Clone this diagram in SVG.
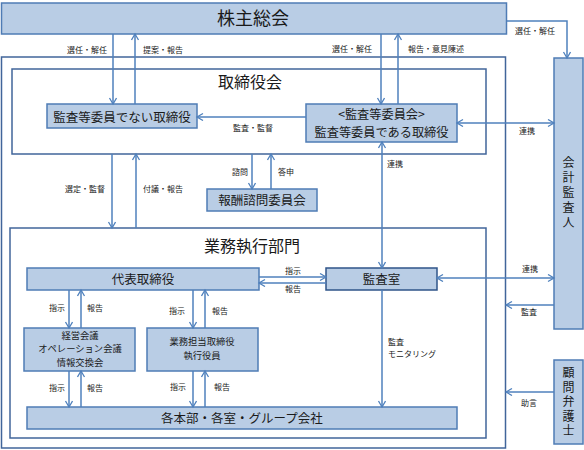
<svg xmlns="http://www.w3.org/2000/svg" width="584" height="450" viewBox="0 0 584 450">
<style>
text{font-family:"Noto Sans CJK JP","Noto Sans",sans-serif;fill:#1a1a1a;text-anchor:middle}
.box{fill:#b9cde5;stroke:#4f7cb5;stroke-width:1.5}
.frame{fill:#fff;stroke:#41659a;stroke-width:1.5}
.c{fill:none;stroke:#4f81bd;stroke-width:1.5}
.s{font-size:8px}
.m{font-size:12.5px}
.k{font-size:12.2px}
.t{font-size:9.3px}
.v{font-size:12px;writing-mode:vertical-rl}
</style>
<defs>
<marker id="a" markerUnits="userSpaceOnUse" markerWidth="10" markerHeight="10" refX="7" refY="4" orient="auto-start-reverse">
<path d="M1,0.5 L7,4 L1,7.5" fill="none" stroke="#4f81bd" stroke-width="1.3"/>
</marker>
</defs>
<rect width="584" height="450" fill="#fff"/>
<g id="outer"><rect class="frame" x="1.5" y="57" width="504" height="391"/></g>
<g id="torishimariyakukai"><rect class="frame" x="12" y="69" width="474" height="85"/><text x="250" y="88" font-size="16px">取締役会</text></g>
<g id="gyomu"><rect class="frame" x="10" y="228" width="476" height="210"/><text x="252" y="252" font-size="16px">業務執行部門</text></g>
<g id="kabunushi"><rect class="box" x="1.5" y="3" width="505" height="31"/><text x="253" y="25" font-size="18px">株主総会</text></g>
<g id="hikansa"><rect class="box" x="47" y="104" width="150" height="24"/><text class="m" x="122" y="121.5">監査等委員でない取締役</text></g>
<g id="kansaiinkai"><rect class="box" x="306" y="104" width="151" height="38"/><text class="k" x="381.5" y="119">&lt;監査等委員会&gt;</text><text class="k" x="381.5" y="137">監査等委員である取締役</text></g>
<g id="hoshu"><rect class="box" x="207" y="189" width="110" height="22"/><text class="m" x="262" y="204.5">報酬諮問委員会</text></g>
<g id="daihyo"><rect class="box" x="27" y="268" width="232" height="22"/><text class="m" x="143" y="283.5">代表取締役</text></g>
<g id="kansashitsu"><rect class="box" x="326" y="268" width="111" height="22" style="stroke:#2f5489"/><text class="m" x="381.5" y="283.5">監査室</text></g>
<g id="keiei"><rect class="box" x="24" y="328" width="111" height="43"/><text class="t" x="80" y="338.5">経営会議</text><text class="t" x="80" y="352">オペレーション会議</text><text class="t" x="80" y="365.5">情報交換会</text></g>
<g id="tanto"><rect class="box" x="147" y="328" width="111" height="43"/><text class="t" x="202" y="345">業務担当取締役</text><text class="t" x="202" y="358.5">執行役員</text></g>
<g id="kakuhonbu"><rect class="box" x="27" y="407" width="430" height="22"/><text class="m" x="242" y="422.5">各本部・各室・グループ会社</text></g>
<g id="kaikei"><rect class="box" x="554" y="58" width="29" height="271"/><text class="v" x="568.5" y="194" style="letter-spacing:3px">会計監査人</text></g>
<g id="komon"><rect class="box" x="554" y="360" width="29" height="84"/><text class="v" x="568.5" y="403" style="letter-spacing:2.5px">顧問弁護士</text></g>
<g id="connectors">
<path class="c" d="M113,34V104" marker-end="url(#a)"/>
<path class="c" d="M135,104V34" marker-end="url(#a)"/>
<path class="c" d="M381,34V104" marker-end="url(#a)"/>
<path class="c" d="M398,104V34" marker-end="url(#a)"/>
<path class="c" d="M507,21H567V58" marker-end="url(#a)"/>
<path class="c" d="M306,117H197" marker-end="url(#a)"/>
<path class="c" d="M457,123H554" marker-start="url(#a)" marker-end="url(#a)"/>
<path class="c" d="M382,142V268" marker-start="url(#a)" marker-end="url(#a)"/>
<path class="c" d="M112,154V228" marker-end="url(#a)"/>
<path class="c" d="M136,228V154" marker-end="url(#a)"/>
<path class="c" d="M252,154V189" marker-end="url(#a)"/>
<path class="c" d="M271,189V154" marker-end="url(#a)"/>
<path class="c" d="M259,277H326" marker-end="url(#a)"/>
<path class="c" d="M326,283H259" marker-end="url(#a)"/>
<path class="c" d="M437,278H554" marker-start="url(#a)" marker-end="url(#a)"/>
<path class="c" d="M554,305H506" marker-end="url(#a)"/>
<path class="c" d="M554,392H506" marker-end="url(#a)"/>
<path class="c" d="M69,290V328" marker-end="url(#a)"/>
<path class="c" d="M81,328V290" marker-end="url(#a)"/>
<path class="c" d="M193,290V328" marker-end="url(#a)"/>
<path class="c" d="M205,328V290" marker-end="url(#a)"/>
<path class="c" d="M69,371V407" marker-end="url(#a)"/>
<path class="c" d="M81,407V371" marker-end="url(#a)"/>
<path class="c" d="M193,371V407" marker-end="url(#a)"/>
<path class="c" d="M205,407V371" marker-end="url(#a)"/>
<path class="c" d="M382,290V407" marker-end="url(#a)"/>
</g>
<g id="labels">
<text class="s" x="87" y="53">選任・解任</text>
<text class="s" x="163" y="53">提案・報告</text>
<text class="s" x="352" y="52">選任・解任</text>
<text class="s" x="436" y="52">報告・意見陳述</text>
<text class="s" x="535" y="34">選任・解任</text>
<text class="s" x="253" y="131">監査・監督</text>
<text class="s" x="527" y="134">連携</text>
<text class="s" x="85" y="192">選定・監督</text>
<text class="s" x="163" y="192">付議・報告</text>
<text class="s" x="240" y="175">諮問</text>
<text class="s" x="286" y="175">答申</text>
<text class="s" x="395" y="167">連携</text>
<text class="s" x="293" y="274">指示</text>
<text class="s" x="293" y="292">報告</text>
<text class="s" x="530" y="272">連携</text>
<text class="s" x="529" y="315">監査</text>
<text class="s" x="57" y="311">指示</text>
<text class="s" x="95" y="311">報告</text>
<text class="s" x="177" y="314">指示</text>
<text class="s" x="220" y="314">報告</text>
<text class="s" x="57" y="391">指示</text>
<text class="s" x="95" y="391">報告</text>
<text class="s" x="178" y="390">指示</text>
<text class="s" x="222" y="390">報告</text>
<text class="s" x="388" y="345" style="text-anchor:start">監査</text>
<text class="s" x="388" y="356.5" style="text-anchor:start">モニタリング</text>
<text class="s" x="529" y="406">助言</text>
</g>
</svg>
